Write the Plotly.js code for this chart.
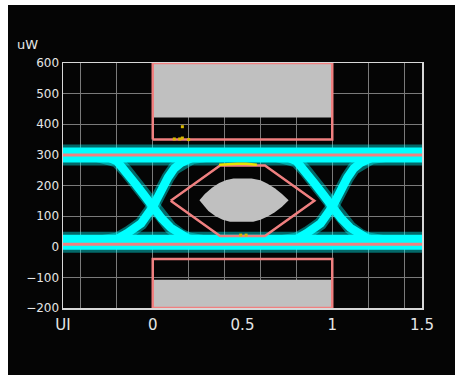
<!DOCTYPE html>
<html>
<head>
<meta charset="utf-8">
<script src="https://cdn.plot.ly/plotly-3.0.1.min.js"></script>
<style>
html,body{margin:0;padding:0;background:#ffffff;}
#chart{position:absolute;left:8px;top:5px;width:447px;height:370px;background:#000;}
</style>
</head>
<body>
<div id="chart"></div>
<script>
// ---- data ----
var xTickVals = [-0.5, 0, 0.5, 1, 1.5];
var xTickText = ["UI", "0", "0.5", "1", "1.5"];
var levelX = [-0.5, 1.5];
var oneLevelBand = [300, 300];
var zeroLevelBand = [15, 15];
var oneLevelLine = [300, 300];
var zeroLevelLine = [8, 8];

// falling edges (two crossings, separated by null)
var fallX = [-0.32, -0.25, -0.2, -0.15, -0.1, -0.05, 0, 0.05, 0.1, 0.15, 0.2, 0.3, null,
             0.68, 0.75, 0.8, 0.85, 0.9, 0.95, 1.0, 1.05, 1.1, 1.15, 1.2, 1.3];
var fallY = [300, 293, 280, 248, 208, 170, 130, 92, 62, 40, 26, 15, null,
             300, 293, 280, 248, 208, 170, 130, 92, 62, 40, 26, 15];
// rising edges
var riseX = [-0.3, -0.2, -0.14, -0.065, 0, 0.04, 0.085, 0.12, 0.16, 0.22, 0.32, null,
             0.7, 0.8, 0.86, 0.935, 1.0, 1.04, 1.085, 1.12, 1.16, 1.22, 1.32];
var riseY = [15, 25, 45, 76, 130, 182, 226, 256, 275, 291, 300, null,
             15, 25, 45, 76, 130, 182, 226, 256, 275, 291, 300];

// mask regions
var maskTopFillX = [0, 1, 1, 0];
var maskTopFillY = [422, 422, 600, 600];
var maskTopX = [0, 1, 1, 0, 0];
var maskTopY = [350, 350, 600, 600, 350];
var maskBotFillX = [0, 1, 1, 0];
var maskBotFillY = [-200, -200, -108, -108];
var maskBotX = [0, 1, 1, 0, 0];
var maskBotY = [-200, -200, -40, -40, -200];
var hexX = [0.1, 0.375, 0.625, 0.9, 0.625, 0.375, 0.1];
var hexY = [150, 265, 265, 150, 35, 35, 150];
// grey eye-opening region
var lensX = [0.26, 0.29, 0.33, 0.37, 0.41, 0.45, 0.55, 0.6, 0.64, 0.68, 0.72, 0.757,
             0.72, 0.68, 0.64, 0.6, 0.56, 0.43, 0.39, 0.35, 0.31, 0.28, 0.26];
var lensY = [152, 172, 193, 208, 218, 223, 223, 217, 206, 191, 172, 152,
             131, 113, 99, 88, 82, 82, 88, 100, 117, 136, 152];
// mask hits (yellow)
var hitTopX = [0.37, 0.42, 0.47, 0.52, 0.56, 0.58];
var hitTopY = [268, 270, 271, 271, 270, 268];
var hitDotX = [0.12, 0.15, 0.165, 0.2, 0.49, 0.52, 0.165];
var hitDotY = [352, 352, 355, 350, 38, 38, 392];

var CYAN = "#00ffff", PINK = "#f08080", GREY = "#c0c0c0";

function line(x, y, color, width, opacity) {
  return {x: x, y: y, type: "scatter", mode: "lines", line: {color: color, width: width},
          opacity: opacity === undefined ? 1 : opacity, hoverinfo: "skip", showlegend: false};
}
function fillPoly(x, y, color) {
  return {x: x, y: y, type: "scatter", mode: "lines", fill: "toself", fillcolor: color,
          line: {width: 0, color: color}, hoverinfo: "skip", showlegend: false};
}

var traces = [
  // sparse fringe
  line(levelX, oneLevelBand, CYAN, 21, 0.4),
  line(levelX, zeroLevelBand, CYAN, 21, 0.4),
  line(fallX, fallY, CYAN, 13, 0.4),
  line(riseX, riseY, CYAN, 13, 0.4),
  // dense core
  line(levelX, oneLevelBand, CYAN, 15),
  line(levelX, zeroLevelBand, CYAN, 15),
  line(fallX, fallY, CYAN, 8.5),
  line(riseX, riseY, CYAN, 8.5),
  // masks
  fillPoly(maskTopFillX, maskTopFillY, GREY),
  fillPoly(maskBotFillX, maskBotFillY, GREY),
  fillPoly(lensX, lensY, GREY),
  line(maskTopX, maskTopY, PINK, 2.5),
  line(maskBotX, maskBotY, PINK, 2.5),
  line(hexX, hexY, PINK, 2.5),
  // level markers
  line(levelX, oneLevelLine, PINK, 3),
  line(levelX, zeroLevelLine, PINK, 3),
  // hits
  line(hitTopX, hitTopY, "#e8e000", 2.5),
  {x: hitDotX, y: hitDotY, type: "scatter", mode: "markers",
   marker: {color: "#d8b800", size: 3, symbol: "square"}, hoverinfo: "skip", showlegend: false},
  // carrier for the labelled x axis
  {x: [-0.5], y: [0], xaxis: "x2", type: "scatter", mode: "markers",
   marker: {opacity: 0}, hoverinfo: "skip", showlegend: false}
];

var layout = {
  width: 447, height: 370,
  paper_bgcolor: "#050505", plot_bgcolor: "#050505",
  margin: {l: 55, r: 33, t: 58, b: 67},
  showlegend: false,
  font: {family: "DejaVu Sans, sans-serif", color: "#e6e6e6"},
  xaxis: {range: [-0.5, 1.5], tick0: 0, dtick: 0.2, showgrid: true, gridcolor: "#7a7a7a",
          gridwidth: 1, zeroline: false, showticklabels: false, ticks: "",
          showline: true, mirror: true, linecolor: "#d8d8d8", linewidth: 1.5},
  xaxis2: {range: [-0.5, 1.5], overlaying: "x", side: "bottom", anchor: "y",
           tickmode: "array", tickvals: xTickVals, ticktext: xTickText,
           showgrid: false, zeroline: false, ticks: "", showline: false,
           tickfont: {size: 15, color: "#e6e6e6"}, ticklabelstandoff: 6},
  yaxis: {range: [-200, 600], dtick: 100, tick0: 0, showgrid: true, gridcolor: "#7a7a7a",
          gridwidth: 1, zeroline: false, ticks: "", tickfont: {size: 12, color: "#e6e6e6"},
          showline: true, mirror: true, linecolor: "#d8d8d8", linewidth: 1.5},
  annotations: [{text: "uW", xref: "paper", yref: "paper", x: -0.134, y: 1.074,
                 xanchor: "left", yanchor: "middle", showarrow: false,
                 font: {size: 13, color: "#e6e6e6"}}]
};

Plotly.newPlot("chart", traces, layout, {staticPlot: true, displayModeBar: false});
</script>
</body>
</html>
